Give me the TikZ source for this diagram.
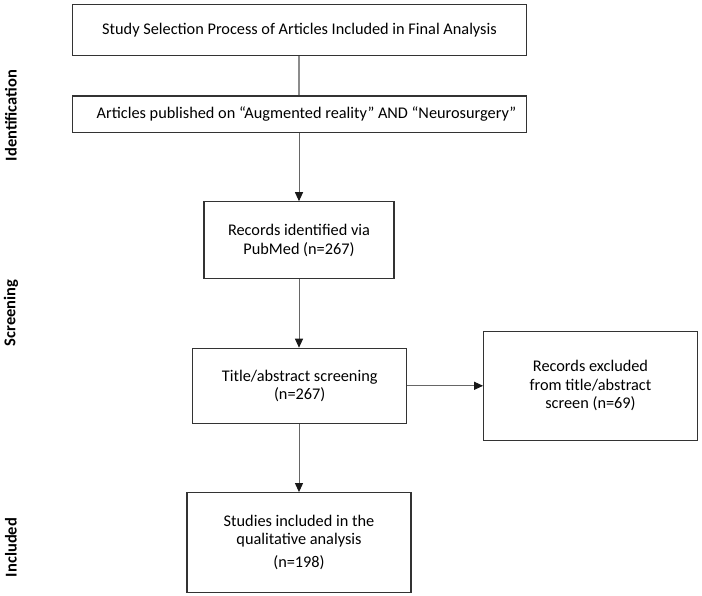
\documentclass[tikz,border=0pt]{standalone}
\usepackage{fontspec}
\setmainfont{Carlito}
\usetikzlibrary{arrows.meta}
\begin{document}
\begin{tikzpicture}[x=1pt,y=-1pt,
  box/.style={draw=black!80,line width=1.2pt,rectangle,inner sep=0pt,align=center,
    font=\fontsize{16.3}{18.5}\selectfont},
  conn/.style={draw=black!60,line width=1pt},
  arr/.style={conn,-{Triangle[length=9pt,width=8pt,fill=black!90,color=black!90]}},
  phase/.style={rotate=90,font=\fontsize{16.5}{18}\selectfont\bfseries,inner sep=0pt}]
\useasboundingbox (0,0) rectangle (702,596);
\node[box,minimum width=454pt,minimum height=51pt] (b1) at (299.5,30) {Study Selection Process of Articles Included in Final Analysis};
\node[box,minimum width=454pt,minimum height=36.5pt] (b2) at (299.5,114.3) {\hspace*{14pt}Articles published on “Augmented reality” AND “Neurosurgery”};
\node[box,minimum width=190pt,minimum height=77pt] (b3) at (299,240.3) {Records identified via\\PubMed (n=267)};
\node[box,minimum width=214pt,minimum height=75pt] (b4) at (299.7,385.8) {Title/abstract screening\\(n=267)};
\node[box,minimum width=213.6pt,minimum height=109pt] (b5) at (590.5,385.8) {Records excluded\\from title/abstract\\screen (n=69)};
\node[box,minimum width=224pt,minimum height=99.6pt] (b6) at (299,542.5) {Studies included in the\\qualitative analysis\\[4.5pt](n=198)};
\node[phase] (p1) at (11,115.5) {Identification};
\node[phase] (p2) at (11,313) {Screening};
\node[phase] (p3) at (11,547.5) {Included};
\draw[conn,draw=black!45,line width=1.4pt] (b1.south -| 299,0) -- (b2.north -| 299,0);
\draw[arr] (b2.south -| 299,0) -- (b3.north -| 299,0);
\draw[arr] (b3.south -| 299,0) -- (b4.north -| 299,0);
\draw[arr] (b4.south -| 299,0) -- (b6.north -| 299,0);
\draw[arr] (b4.east) -- (b5.west);
\end{tikzpicture}
\end{document}
